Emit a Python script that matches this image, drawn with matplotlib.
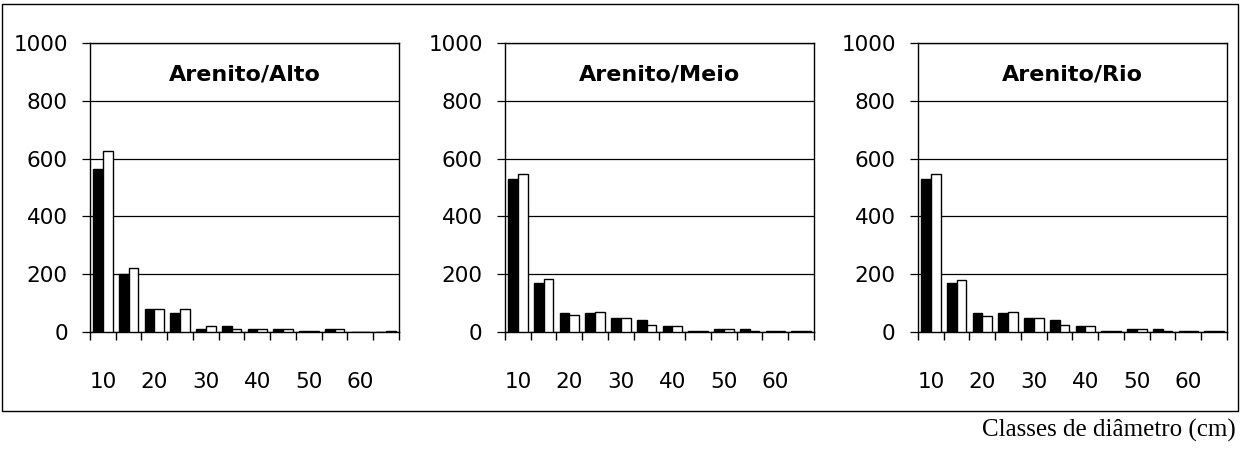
import numpy as np
import matplotlib.pyplot as plt
from matplotlib.patches import Rectangle

# classes de diâmetro (centro da classe, cm)
classes = [10, 15, 20, 25, 30, 35, 40, 45, 50, 55, 60, 65]
rotulos_x = ['10', '20', '30', '40', '50', '60']

titulos = ['Arenito/Alto', 'Arenito/Meio', 'Arenito/Rio']

# série preta / série branca de cada local
alto_preto = [565, 200, 80, 65, 12, 20, 12, 12, 5, 12, 0, 0]
alto_branco = [625, 220, 80, 80, 20, 12, 10, 10, 5, 12, 0, 5]
meio_preto = [530, 170, 65, 65, 50, 40, 20, 5, 12, 12, 5, 5]
meio_branco = [545, 185, 60, 70, 50, 25, 20, 5, 10, 5, 5, 5]
rio_preto = [530, 170, 65, 65, 50, 40, 20, 5, 12, 10, 5, 5]
rio_branco = [545, 180, 55, 70, 50, 25, 20, 5, 12, 5, 5, 5]

series = [(alto_preto, alto_branco), (meio_preto, meio_branco), (rio_preto, rio_branco)]

fig = plt.figure(figsize=(12.41, 4.49), dpi=100)

# moldura externa
fig.patches.append(Rectangle((0.0016, 0.085), 0.9960, 0.906, transform=fig.transFigure,
                             fill=False, edgecolor='black', linewidth=1.0))

posicoes = [0.0725, 0.4069, 0.7397]
larg = 0.249
x = np.arange(len(classes))
w = 0.38

for esq, titulo, (preto, branco) in zip(posicoes, titulos, series):
    ax = fig.add_axes([esq, 0.2606, larg, 0.6437])
    ax.bar(x - w / 2, preto, width=w, color='black', edgecolor='black', linewidth=1.0, zorder=3)
    ax.bar(x + w / 2, branco, width=w, color='white', edgecolor='black', linewidth=1.0, zorder=3)

    ax.set_xlim(-0.5, len(classes) - 0.5)
    ax.set_ylim(0, 1000)
    ax.set_yticks([0, 200, 400, 600, 800, 1000])
    ax.grid(True, axis='y', color='black', linewidth=0.9, zorder=1)

    # marcas nos limites das classes, rótulos no centro das classes
    ax.set_xticks(np.arange(-0.5, len(classes), 1.0))
    ax.set_xticklabels([])
    ax.set_xticks(x[::2], minor=True)
    ax.set_xticklabels(rotulos_x, minor=True)
    ax.tick_params(axis='x', which='major', direction='out', length=6, width=1.0)
    ax.tick_params(axis='x', which='minor', length=0, pad=29, labelsize=15.5)
    ax.tick_params(axis='y', direction='out', length=6, width=0.9, pad=10, labelsize=15.5)

    for lado in ['left', 'right', 'top', 'bottom']:
        ax.spines[lado].set_linewidth(1.0)
        ax.spines[lado].set_color('black')

    ax.text(0.5, 0.89, titulo, transform=ax.transAxes, ha='center', va='center',
            fontsize=16, fontweight='bold', family='DejaVu Sans')

    for lbl in ax.get_xticklabels(minor=True) + ax.get_yticklabels():
        lbl.set_family('DejaVu Sans')

fig.text(0.996, 0.042, 'Classes de diâmetro (cm)', ha='right', va='center',
         fontsize=18, family='Liberation Serif')

fig.savefig('out.png', dpi=100, facecolor='white')
